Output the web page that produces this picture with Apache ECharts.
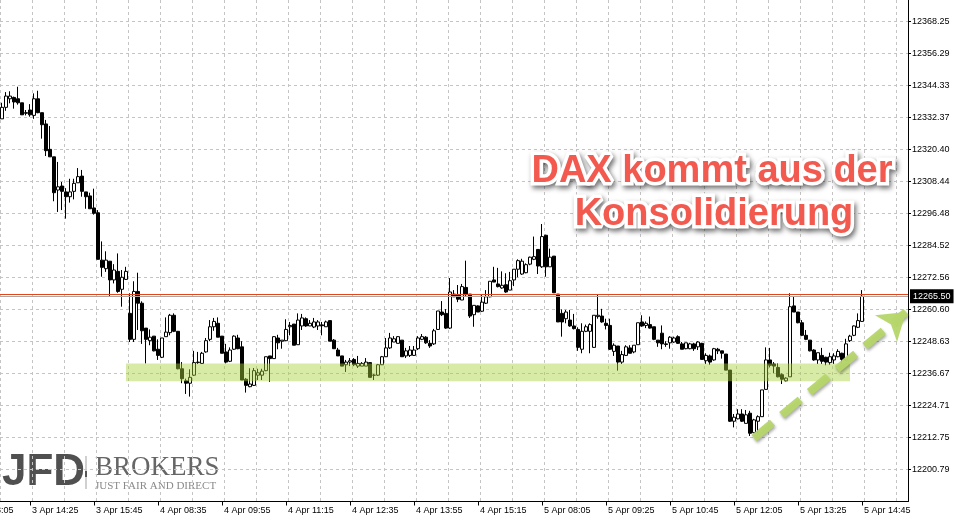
<!DOCTYPE html>
<html><head><meta charset="utf-8">
<script src="https://cdn.jsdelivr.net/npm/echarts@6/dist/echarts.min.js"></script>
<style>html,body{margin:0;padding:0;background:#fff}#c{width:956px;height:522px}</style>
</head><body><div id="c"></div>
<script>
// 5-minute DAX candles, 3 Apr 13:50 -> 5 Apr 14:45
const open = [
12331.8,12336.1,12339.3,12339.8,12339.3,12337.8,12334.1,12335.1,12333.1,12339.3,
12334.1,12329.9,12320.4,12317.6,12305.2,12306.7,12304.5,12302.7,12304.7,12307.9,
12310.4,12304.5,12303.0,12298.5,12296.7,12279.0,12275.8,12278.6,12271.6,12274.8,
12268.1,12271.8,12259.1,12249.4,12267.3,12262.9,12253.6,12248.9,12250.6,12245.7,
12242.7,12250.4,12251.9,12258.4,12252.4,12238.4,12233.9,12233.0,12236.0,12240.7,
12240.4,12244.7,12249.4,12254.1,12255.4,12250.6,12244.7,12241.2,12245.7,12249.9,
12246.6,12234.5,12231.7,12232.2,12236.0,12236.0,12237.7,12243.2,12242.2,12249.9,
12248.7,12248.9,12254.1,12255.1,12247.4,12254.4,12257.1,12254.4,12254.0,12254.4,
12254.8,12254.1,12256.4,12249.1,12245.4,12243.2,12239.9,12240.9,12241.9,12239.4,
12239.4,12239.4,12240.7,12236.0,12236.0,12239.9,12242.9,12246.2,12248.4,12247.9,
12249.1,12243.2,12243.4,12243.4,12245.9,12249.4,12250.2,12247.9,12247.7,12253.1,
12259.6,12259.1,12253.6,12266.3,12266.1,12264.1,12268.8,12266.3,12258.6,12261.9,
12259.9,12262.9,12265.3,12271.6,12270.1,12268.6,12269.8,12267.8,12271.6,12275.6,
12273.8,12274.3,12277.5,12279.3,12283.0,12276.5,12288.3,12276.5,12280.5,12266.3,
12259.1,12257.1,12256.6,12254.4,12253.1,12245.7,12252.4,12252.4,12246.4,12257.9,
12258.1,12255.4,12254.6,12244.9,12246.9,12240.9,12243.4,12246.2,12244.7,12247.4,
12255.9,12254.6,12254.9,12254.1,12249.1,12251.7,12247.7,12248.1,12248.4,12250.4,
12247.7,12245.9,12245.9,12247.7,12246.6,12247.9,12241.4,12243.2,12241.7,12245.7,
12245.1,12243.9,12237.9,12218.8,12219.7,12221.5,12218.0,12221.8,12214.5,12218.8,
12220.5,12230.7,12241.7,12240.2,12238.9,12236.2,12233.9,12235.4,12261.9,12259.6,
12255.6,12250.9,12249.1,12245.4,12241.7,12243.4,12242.7,12240.7,12241.7,12242.9,
12244.2,12241.7,12248.9,12250.9,12253.9,12256.1];
const close = [
12336.1,12340.3,12340.3,12338.1,12337.8,12333.3,12333.9,12333.3,12339.3,12334.1,
12329.6,12319.9,12317.6,12304.2,12306.4,12304.7,12302.7,12304.5,12307.7,12310.2,
12304.7,12302.7,12298.2,12296.5,12279.3,12276.3,12279.0,12271.6,12275.3,12267.3,
12272.6,12274.8,12249.4,12267.3,12262.9,12252.6,12249.4,12250.2,12245.1,12243.4,
12249.9,12252.1,12258.4,12252.4,12238.4,12234.7,12233.0,12235.2,12240.7,12240.9,
12244.2,12248.9,12254.1,12256.1,12250.2,12244.2,12240.9,12245.4,12250.6,12245.9,
12234.2,12232.2,12232.7,12237.7,12236.9,12237.5,12242.9,12242.2,12250.4,12248.1,
12249.1,12253.1,12254.6,12247.2,12256.6,12257.4,12254.4,12255.4,12255.9,12255.9,
12254.5,12255.9,12248.7,12245.9,12243.2,12239.4,12240.9,12241.4,12239.9,12240.4,
12240.4,12240.9,12235.2,12236.0,12239.9,12242.9,12246.2,12249.9,12249.6,12250.4,
12242.9,12245.1,12245.4,12245.4,12249.9,12250.4,12248.1,12246.9,12252.6,12260.0,
12258.6,12253.6,12267.1,12265.3,12264.4,12269.1,12266.1,12258.1,12262.1,12259.6,
12263.3,12265.3,12271.1,12270.8,12269.1,12269.6,12267.1,12271.3,12275.6,12278.8,
12278.6,12277.3,12280.1,12280.3,12276.8,12287.8,12276.5,12280.1,12266.8,12255.9,
12255.9,12259.6,12254.4,12253.4,12246.4,12252.4,12254.1,12254.9,12258.4,12258.4,
12255.9,12254.6,12245.7,12247.2,12240.9,12243.7,12246.6,12244.2,12247.2,12255.6,
12254.4,12255.4,12253.6,12249.4,12248.1,12247.7,12247.5,12250.2,12249.9,12247.9,
12245.7,12248.1,12247.7,12245.9,12248.4,12241.9,12243.4,12240.9,12245.9,12245.1,
12244.2,12237.9,12218.8,12220.3,12221.5,12218.8,12221.2,12214.3,12219.3,12220.5,
12230.5,12241.7,12239.7,12239.4,12235.4,12234.5,12234.9,12261.6,12259.6,12255.6,
12250.9,12249.4,12245.1,12241.7,12244.4,12241.2,12240.9,12242.9,12243.2,12244.9,
12241.9,12247.7,12250.6,12254.4,12256.4,12265.5];
const high = [
12337.8,12341.8,12342.1,12340.1,12343.8,12337.8,12335.1,12337.3,12341.3,12342.3,
12334.1,12331.4,12329.1,12317.6,12315.7,12308.2,12305.9,12309.4,12309.4,12313.4,
12312.7,12304.5,12304.2,12305.7,12297.7,12286.0,12282.3,12278.6,12277.5,12281.5,
12275.3,12276.5,12266.6,12271.1,12274.3,12263.6,12253.6,12253.1,12250.6,12249.4,
12249.9,12257.6,12258.9,12259.1,12252.4,12240.9,12234.7,12238.2,12245.1,12244.7,
12244.7,12249.9,12256.6,12257.4,12257.6,12250.6,12247.7,12246.4,12250.9,12251.1,
12248.7,12234.9,12238.6,12238.7,12238.4,12238.4,12242.9,12243.2,12250.6,12251.1,
12249.1,12256.9,12255.9,12255.1,12259.1,12258.9,12257.6,12256.6,12257.4,12256.6,
12255.9,12256.4,12256.4,12249.5,12246.2,12243.2,12241.7,12242.4,12242.4,12243.2,
12240.9,12242.4,12240.7,12236.4,12240.2,12243.2,12249.9,12251.8,12250.6,12250.6,
12249.1,12246.2,12246.9,12246.9,12250.6,12251.4,12250.6,12249.1,12253.3,12260.0,
12263.7,12260.7,12272.3,12267.8,12269.7,12270.1,12278.8,12266.3,12262.1,12262.1,
12266.3,12267.8,12271.1,12276.5,12276.1,12274.8,12274.1,12274.6,12275.6,12279.3,
12279.5,12277.8,12280.3,12287.8,12283.0,12292.5,12288.5,12283.3,12280.5,12266.3,
12260.6,12260.4,12260.4,12258.9,12253.9,12255.4,12254.9,12255.4,12258.4,12266.1,
12260.8,12257.1,12257.1,12247.9,12246.9,12245.1,12247.2,12247.2,12247.2,12255.6,
12258.4,12256.1,12257.9,12254.1,12249.1,12254.6,12248.7,12250.6,12250.4,12250.9,
12248.4,12248.1,12248.1,12248.1,12248.7,12248.1,12244.2,12243.7,12246.2,12246.2,
12245.1,12243.9,12237.9,12221.5,12223.3,12223.3,12223.0,12222.7,12219.7,12221.0,
12230.5,12246.4,12246.2,12240.9,12240.4,12236.7,12235.2,12266.6,12265.6,12259.6,
12256.6,12252.9,12249.1,12245.7,12244.4,12246.2,12242.9,12244.4,12244.2,12245.7,
12244.4,12249.6,12251.1,12254.6,12259.1,12267.8];
const low = [
12331.8,12334.8,12337.6,12335.6,12337.1,12333.3,12333.1,12332.6,12331.8,12333.9,
12324.4,12317.9,12317.6,12301.0,12297.0,12297.7,12294.5,12300.5,12301.7,12307.9,
12302.7,12298.2,12298.2,12296.0,12279.3,12272.8,12274.6,12265.3,12270.3,12266.8,
12261.6,12271.6,12248.4,12248.4,12252.9,12247.7,12240.4,12247.2,12244.9,12241.7,
12242.4,12250.4,12250.9,12252.1,12238.2,12233.0,12229.0,12228.0,12235.7,12240.2,
12240.2,12244.4,12248.7,12252.6,12250.2,12244.2,12240.4,12240.9,12245.4,12245.7,
12234.2,12229.5,12231.5,12232.0,12234.2,12234.2,12237.5,12233.5,12242.2,12245.7,
12245.9,12248.7,12250.9,12247.2,12247.4,12252.9,12254.1,12254.4,12253.6,12252.9,
12250.9,12254.1,12248.7,12245.8,12243.2,12239.4,12237.2,12239.4,12239.4,12238.7,
12239.4,12239.4,12235.2,12234.2,12235.7,12239.8,12242.8,12245.8,12248.4,12247.9,
12242.8,12242.4,12242.8,12243.2,12245.4,12249.1,12247.7,12246.2,12247.3,12252.9,
12258.1,12253.3,12253.3,12265.2,12263.3,12264.1,12265.6,12257.4,12254.1,12259.6,
12259.6,12262.6,12265.1,12270.8,12268.8,12268.3,12266.8,12267.8,12269.3,12272.6,
12273.5,12274.1,12277.1,12279.0,12273.8,12276.1,12272.8,12276.5,12266.8,12255.9,
12250.4,12255.4,12254.1,12253.1,12245.1,12244.2,12252.1,12244.2,12246.2,12257.1,
12255.6,12253.1,12245.4,12243.2,12237.7,12240.2,12243.2,12244.2,12244.2,12247.4,
12254.1,12253.6,12253.4,12249.1,12246.6,12245.7,12246.6,12245.9,12248.1,12247.7,
12245.7,12245.7,12245.7,12245.1,12245.4,12241.9,12240.2,12239.9,12241.4,12243.9,
12242.2,12237.9,12218.5,12216.5,12219.5,12218.5,12218.0,12213.3,12214.3,12214.3,
12220.5,12230.7,12238.9,12236.7,12235.2,12232.7,12233.7,12235.4,12259.6,12255.4,
12250.6,12249.1,12244.9,12241.4,12240.2,12240.2,12239.7,12239.9,12240.2,12242.7,
12240.4,12241.4,12248.4,12250.6,12253.6,12255.9];

// trading sessions: [day, start hour, start minute, number of 5-min bars]
const sessions = [['3 Apr', 13, 50, 32], ['4 Apr', 8, 0, 102], ['5 Apr', 8, 0, 82]];
const tickLabels = ['3 Apr 14:25','3 Apr 15:45','4 Apr 08:35','4 Apr 09:55','4 Apr 11:15','4 Apr 12:35','4 Apr 13:55',
  '4 Apr 15:15','5 Apr 08:05','5 Apr 09:25','5 Apr 10:45','5 Apr 12:05','5 Apr 13:25','5 Apr 14:45'];
const hiddenLabel = '3 Apr 13:05';
const yTicks = [12200.79,12212.75,12224.71,12236.67,12248.63,12260.60,12272.56,12284.52,12296.48,12308.44,12320.40,12332.37,12344.33,12356.29,12368.25];
const yMin = 12188.80, yMax = 12376.21;
const bid = 12265.50, ask = 12266.20;
const zone = [12233.7, 12240.4];          // consolidation band
const zoneBars = [31, 212];
const arrowFrom = [188, 12212.5], arrowTo = [226, 12259.6];

const totalSlots = 227, labelStart = 7, labelStep = 16, gridStep = 8;
const cats = [];
sessions.forEach(([d, h, m, n]) => {
  for (let i = 0; i < n; i++) {
    const t = h * 60 + m + 5 * i;
    cats.push(d + ' ' + String(Math.floor(t / 60)).padStart(2, '0') + ':' + String(t % 60).padStart(2, '0'));
  }
});
while (cats.length < totalSlots) cats.push('slot' + cats.length);
const candles = open.map((o, i) => [o, close[i], low[i], high[i]]);
const isLabel = (i) => i >= labelStart && (i - labelStart) % labelStep === 0;

const chart = echarts.init(document.getElementById('c'), null, {renderer: 'canvas'});
const font = '"Liberation Sans", Arial, sans-serif';
const titleHalo = {fill: 'rgba(0,0,0,0)', stroke: '#ffffff', lineWidth: 7,
  textShadowBlur: 5, textShadowColor: 'rgba(0,0,0,0.55)', textShadowOffsetX: 2, textShadowOffsetY: 3,
  shadowBlur: 5, shadowColor: 'rgba(0,0,0,0.55)', shadowOffsetX: 2, shadowOffsetY: 3};
chart.setOption({
  animation: false,
  backgroundColor: '#ffffff',
  grid: {left: -0.7, right: 48, top: 0, bottom: 20.5},
  xAxis: [{
    type: 'category', data: cats, boundaryGap: true,
    axisLine: {show: true, onZero: false, lineStyle: {color: '#000', width: 1}},
    axisTick: {show: true, alignWithLabel: true, interval: isLabel, length: 4, lineStyle: {color: '#000'}},
    axisLabel: {interval: isLabel, align: 'left', margin: 5, padding: [0, 0, 0, 2],
      formatter: (v, i) => tickLabels[(i - labelStart) / labelStep] || '',
      color: '#000', fontSize: 9, fontFamily: font},
    splitLine: {show: false}
  }, {
    // helper axis for the vertical dotted grid (one line every 8 bars)
    type: 'value', min: -labelStart - 0.5, max: totalSlots - labelStart - 0.5, interval: gridStep,
    show: true, axisLine: {show: false, onZero: false}, axisTick: {show: false}, axisLabel: {show: false},
    splitLine: {show: true, lineStyle: {color: '#c4c4c4', type: [3, 3], width: 1}}
  }],
  yAxis: {
    type: 'value', position: 'right', min: yMin, max: yMax,
    axisLine: {show: true, onZero: false, lineStyle: {color: '#000', width: 1}},
    axisTick: {show: true, customValues: yTicks, length: 3, lineStyle: {color: '#000'}},
    axisLabel: {customValues: yTicks, formatter: (v) => v.toFixed(2), color: '#000', fontSize: 9, fontFamily: font, margin: 4},
    splitLine: {show: true, lineStyle: {color: '#c4c4c4', type: [3, 3], width: 1}}
  },
  series: [
    {
      type: 'candlestick', name: 'DAX', data: candles, barWidth: 3, z: 2,
      itemStyle: {color: '#ffffff', color0: '#000000', borderColor: '#000000', borderColor0: '#000000', borderWidth: 1},
      markLine: {
        silent: true, symbol: ['none', 'none'], animation: false,
        data: [
          {yAxis: ask, lineStyle: {color: '#e0471c', width: 1, type: 'solid'},
            label: {show: true, position: 'end', distance: 2, formatter: '{a|}',
              rich: {a: {width: 40, height: 2, backgroundColor: '#e0471c'}}}},
          {yAxis: bid, lineStyle: {color: '#a8a8a8', width: 1, type: 'solid'},
            label: {show: true, position: 'end', distance: 2, formatter: bid.toFixed(2),
              backgroundColor: '#000', color: '#fff', fontSize: 9, fontFamily: font, padding: [3, 3, 2, 3]}}
        ]
      }
    },
    {
      type: 'line', data: [], z: 5, silent: true,
      markArea: {silent: true, z: 5, itemStyle: {color: 'rgba(168,210,58,0.45)'},
        data: [[{xAxis: zoneBars[0], yAxis: zone[1]}, {xAxis: zoneBars[1], yAxis: zone[0]}]]}
    },
    {
      type: 'line', data: [], z: 6, silent: true,
      markLine: {silent: true, animation: false, symbol: ['none', 'arrow'], symbolSize: [26, 26],
        label: {show: false},
        lineStyle: {color: '#b6d66a', width: 8, type: [24, 12], opacity: 0.95,
          shadowBlur: 3, shadowColor: 'rgba(0,0,0,0.35)', shadowOffsetX: 1, shadowOffsetY: 2},
        data: [[{coord: arrowFrom}, {coord: arrowTo}]]}
    }
  ],
  graphic: [
    {type: 'text', x: -33, y: 506, silent: true, style: {text: hiddenLabel, font: '9px ' + font, fill: '#000'}},
    // title: white halo with shadow, then red fill
    {type: 'text', x: 712, y: 171.5, z: 100, silent: true, style: Object.assign({text: 'DAX kommt aus der', font: 'bold 38px ' + font,
      textAlign: 'center', textVerticalAlign: 'middle'}, titleHalo)},
    {type: 'text', x: 712, y: 171.5, z: 101, silent: true, style: {text: 'DAX kommt aus der', font: 'bold 38px ' + font,
      fill: '#f35a4f', textAlign: 'center', textVerticalAlign: 'middle'}},
    {type: 'text', x: 714, y: 214.5, z: 100, silent: true, style: Object.assign({text: 'Konsolidierung', font: 'bold 38px ' + font,
      textAlign: 'center', textVerticalAlign: 'middle'}, titleHalo)},
    {type: 'text', x: 714, y: 214.5, z: 101, silent: true, style: {text: 'Konsolidierung', font: 'bold 38px ' + font,
      fill: '#f35a4f', textAlign: 'center', textVerticalAlign: 'middle'}},
    // JFD Brokers logo
    {type: 'text', x: 2, y: 473, silent: true, style: {text: 'JFD', font: 'bold 44px ' + font,
      fill: '#505050', textVerticalAlign: 'middle'}},
    {type: 'rect', silent: true, shape: {x: 85, y: 456, width: 2, height: 33}, style: {fill: '#d0d0d0'}},
    {type: 'rect', silent: true, shape: {x: 85, y: 471, width: 2, height: 6}, style: {fill: '#555'}},
    {type: 'text', x: 95, y: 468, silent: true, style: {text: 'BROKERS', font: '27px "Liberation Serif", "Times New Roman", serif',
      fill: '#666', textVerticalAlign: 'middle'}},
    {type: 'text', x: 95, y: 486, silent: true, style: {text: 'JUST FAIR AND DIRECT', font: '11px "Liberation Serif", "Times New Roman", serif',
      fill: '#8a8a8a', textVerticalAlign: 'middle'}}
  ]
});
</script>
</body></html>
